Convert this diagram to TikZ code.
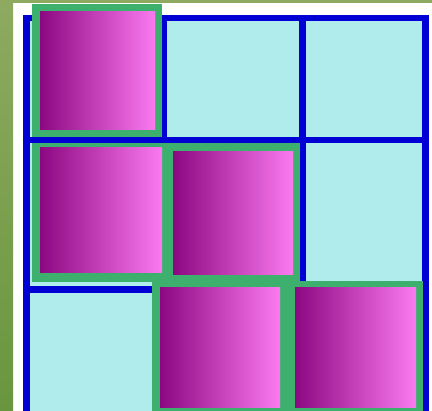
\documentclass[tikz,border=0pt]{standalone}
\begin{document}
\definecolor{stripTop}{RGB}{142,170,96}
\definecolor{stripBot}{RGB}{104,150,62}
\definecolor{cellc}{RGB}{176,236,236}
\definecolor{gridb}{RGB}{0,0,212}
\definecolor{sqg}{RGB}{62,176,110}
\definecolor{magL}{RGB}{140,8,130}
\definecolor{magR}{RGB}{252,122,240}
\tikzset{
  gridline/.style={draw=gridb, line width=6.5pt},
  sqframe/.style={fill=sqg},
  sqface/.style={left color=magL, right color=magR},
}
\begin{tikzpicture}[x=1pt,y=-1pt]
\useasboundingbox (0,0) rectangle (432,411);
\begin{scope}
\clip (0,0) rectangle (432,411);
\fill[white] (0,0) rectangle (432,411);
\shade[top color=stripTop, bottom color=stripBot] (0,0) rectangle (13,411);
\fill[stripTop] (0,0) rectangle (432,3);
% cells
\fill[cellc] (29,20) rectangle (423,420);
% grid
\draw[gridline] (26.5,420) -- (26.5,18) -- (425.5,18) -- (425.5,420);
\draw[gridline] (164,18) -- (164,420);
\draw[gridline] (302.5,18) -- (302.5,420);
\draw[gridline] (26.5,140) -- (425.5,140);
\draw[gridline] (26.5,289.5) -- (425.5,289.5);
% squares
\fill[sqframe] (32,4) rectangle (162,137);
\shade[sqface] (40,12) rectangle (155,130);
\fill[sqframe] (32,143) rectangle (166,282);
\shade[sqface] (40,148) rectangle (162,273);
\fill[sqframe] (166,143) rectangle (300,282);
\shade[sqface] (173,152) rectangle (293,275);
\fill[sqframe] (152,282) rectangle (288,415);
\shade[sqface] (160,288) rectangle (280,408);
\fill[sqframe] (288,281) rectangle (423,415);
\shade[sqface] (295,288) rectangle (416,408);
\end{scope}
\end{tikzpicture}
\end{document}
